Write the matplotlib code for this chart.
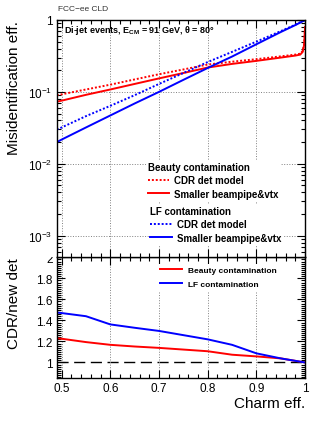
import matplotlib
matplotlib.use("Agg")
import matplotlib.pyplot as plt
from matplotlib.ticker import MultipleLocator, FixedLocator, FixedFormatter, LogLocator, NullFormatter
from matplotlib.patches import Rectangle

plt.rcParams['font.family'] = ['Liberation Sans', 'DejaVu Sans']
plt.rcParams['mathtext.fontset'] = 'custom'
plt.rcParams['mathtext.rm'] = 'Liberation Sans'
plt.rcParams['mathtext.it'] = 'Liberation Sans:italic'
plt.rcParams['mathtext.bf'] = 'Liberation Sans:bold'

# charm efficiency points
eff = [0.49, 0.5, 0.55, 0.6, 0.65, 0.7, 0.75, 0.8, 0.85, 0.9, 0.95, 0.98, 0.99, 0.995, 0.998, 1.0]

# beauty misid: CDR model (dotted) and smaller beampipe (solid)
b_cdr = [0.090, 0.0925, 0.108, 0.126, 0.149, 0.176, 0.205, 0.24, 0.263, 0.285, 0.312, 0.33, 0.34, 0.37, 0.46, 0.8]
b_new = [0.073, 0.0755, 0.091, 0.108, 0.129, 0.154, 0.183, 0.218, 0.245, 0.27, 0.30, 0.32, 0.33, 0.36, 0.45, 0.8]

# light flavour misid
lf_cdr = [0.030, 0.032, 0.046, 0.064, 0.090, 0.129, 0.183, 0.26, 0.36, 0.50, 0.70, 0.86, 0.93, 0.965, 0.985, 1.0]
lf_new = [0.020, 0.0217, 0.032, 0.047, 0.069, 0.100, 0.147, 0.215, 0.31, 0.46, 0.68, 0.85, 0.92, 0.96, 0.98, 1.0]

# ratio panel
ratio_x = [0.49, 0.5, 0.55, 0.6, 0.65, 0.7, 0.75, 0.8, 0.85, 0.9, 0.95, 1.0]
ratio_b = [1.23, 1.226, 1.194, 1.168, 1.152, 1.139, 1.123, 1.107, 1.074, 1.058, 1.039, 1.0]
ratio_lf = [1.475, 1.47, 1.44, 1.362, 1.33, 1.30, 1.26, 1.22, 1.168, 1.087, 1.039, 1.0]

fig = plt.figure(figsize=(3.32, 4.31), dpi=100)
ax1 = fig.add_axes([0.171, 0.4007, 0.748, 0.5506])
ax2 = fig.add_axes([0.171, 0.120, 0.748, 0.2807])
ax1.set_zorder(3)
ax2.set_zorder(1)

red = '#ff0000'
blue = '#0000ff'

ax1.plot(eff, b_cdr, color=red, ls=(0, (1, 1)), lw=1.4, label='CDR det model')
ax1.plot(eff, b_new, color=red, lw=1.4, label='Smaller beampipe&vtx')
ax1.plot(eff, lf_cdr, color=blue, ls=(0, (1, 1)), lw=1.4, label='CDR det model')
ax1.plot(eff, lf_new, color=blue, lw=1.4, label='Smaller beampipe&vtx')

ax1.set_yscale('log')
ax1.set_xlim(0.49, 1.0)
ax1.set_ylim(5e-4, 1.0)
ax1.yaxis.set_major_locator(FixedLocator([1e-3, 1e-2, 1e-1, 1]))
ax1.yaxis.set_major_formatter(FixedFormatter([r'$10^{-3}$', r'$10^{-2}$', r'$10^{-1}$', '1']))
ax1.yaxis.set_minor_locator(LogLocator(base=10, subs=range(2, 10), numticks=20))
ax1.yaxis.set_minor_formatter(NullFormatter())
ax1.grid(True, which='major', ls=':', color='gray', lw=0.7)
ax1.set_ylabel('Misidentification eff.', fontsize=11, loc='top')
ax1.yaxis.set_label_coords(-0.145, 1.0)
ax1.tick_params(labelbottom=False)

# legends in the top panel
hb = ax1.get_lines()[:2]
hl = ax1.get_lines()[2:]
leg_kw = dict(frameon=True, facecolor='white', edgecolor='none', framealpha=1, fancybox=False,
              prop={'size': 7, 'weight': 'bold'}, title_fontproperties={'size': 7, 'weight': 'bold'},
              handlelength=2.2, handletextpad=0.5, labelspacing=0.35, borderpad=0.2, alignment='left')
leg1 = ax1.legend(hb, [h.get_label() for h in hb], title='Beauty contamination',
                  loc='upper left', bbox_to_anchor=(0.34, 0.43), **leg_kw)
ax1.add_artist(leg1)
ax1.legend(hl, [h.get_label() for h in hl], title='LF contamination',
           loc='upper left', bbox_to_anchor=(0.35, 0.245), **leg_kw)

ax1.text(0.03, 0.958, r'Di-jet events, $\mathbf{E_{CM}}$ = 91 GeV, θ = 80°', transform=ax1.transAxes,
         fontsize=6.5, fontweight='bold', va='center', ha='left')
fig.text(0.175, 0.977, 'FCC−ee CLD', fontsize=6, color='#333333', va='center', ha='left')

# ratio panel
ax2.plot(ratio_x, ratio_b, color=red, lw=1.4, label='Beauty contamination')
ax2.plot(ratio_x, ratio_lf, color=blue, lw=1.4, label='LF contamination')
ax2.axhline(1.0, color='black', lw=1.0, ls=(0, (8, 4)), zorder=1)
ax2.set_xlim(0.49, 1.0)
ax2.set_ylim(0.85, 2.0)
ax2.yaxis.set_major_locator(FixedLocator([1.0, 1.2, 1.4, 1.6, 1.8, 2.0]))
ax2.yaxis.set_major_formatter(FixedFormatter(['1', '1.2', '1.4', '1.6', '1.8', '2']))
ax2.yaxis.set_minor_locator(MultipleLocator(0.02))
ax2.grid(True, axis='x', which='major', ls=':', color='gray', lw=0.7)
ax2.set_ylabel('CDR/new det', fontsize=11, loc='top')
ax2.yaxis.set_label_coords(-0.145, 1.0)
ax2.set_xlabel('Charm eff.', fontsize=11, loc='right')
ax2.xaxis.set_label_coords(1.0, -0.15)
ax2.legend(loc='upper left', bbox_to_anchor=(0.39, 0.98), frameon=True, facecolor='white',
           edgecolor='none', framealpha=1, fancybox=False, prop={'size': 6, 'weight': 'bold'},
           handlelength=2.6, handletextpad=0.7, labelspacing=0.75, borderpad=0.3)

for ax in (ax1, ax2):
    ax.xaxis.set_major_locator(FixedLocator([0.5, 0.6, 0.7, 0.8, 0.9, 1.0]))
    ax.xaxis.set_minor_locator(MultipleLocator(0.02))
    ax.tick_params(which='both', direction='in', top=True, right=True, width=0.8, labelsize=8.5)
    ax.tick_params(which='major', length=6, pad=3)
    ax.tick_params(which='minor', length=3)
    for s in ax.spines.values():
        s.set_linewidth(1.0)
ax2.set_xticklabels(['0.5', '0.6', '0.7', '0.8', '0.9', '1'])

# hide the top half of the "2" label like the upper pad does
fig.add_artist(Rectangle((0, 0.4007), 0.165, 0.05, transform=fig.transFigure,
                         facecolor='white', edgecolor='none', zorder=2))

fig.savefig('out.png', dpi=100)
